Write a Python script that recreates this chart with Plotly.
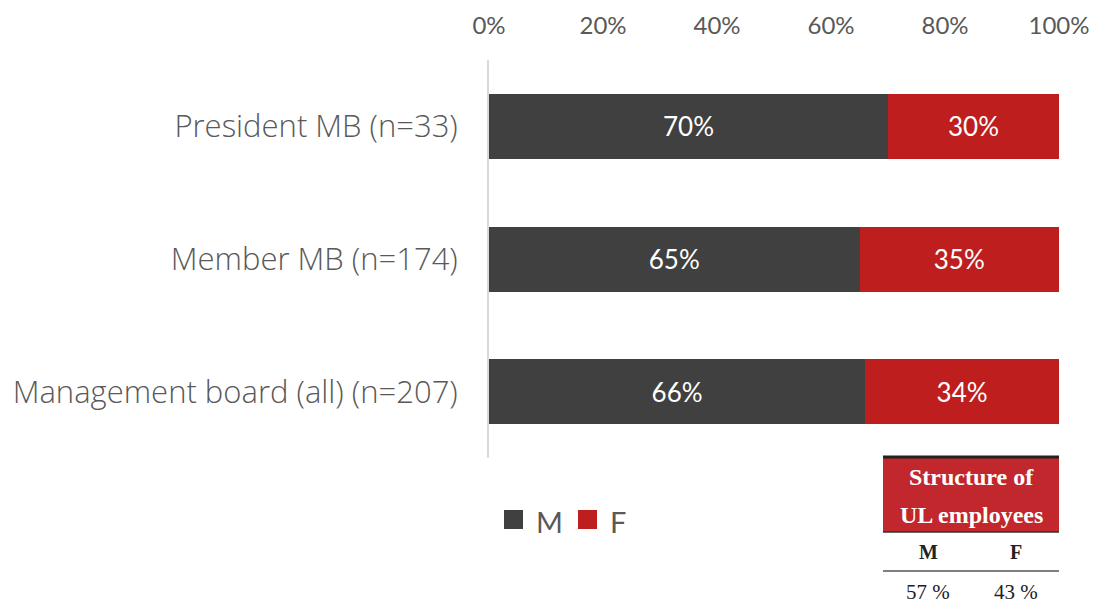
import plotly.graph_objects as go

# Shares of men and women on management boards
categories = ["President MB (n=33)", "Member MB (n=174)", "Management board (all) (n=207)"]
male_pct = [70, 65, 66]
female_pct = [30, 35, 34]
tick_vals = [0, 20, 40, 60, 80, 100]
tick_text = ["0%", "20%", "40%", "60%", "80%", "100%"]

# Reference structure of all UL employees
staff_headers = ["M", "F"]
staff_pct = [57, 43]

DARK = "#404040"
RED = "#be1e1e"
HEADER_RED = "#c1272d"
GREY_TEXT = "#595959"
SANS = "Lato, 'Open Sans', sans-serif"
WIDE_SANS = "'Open Sans', Lato, sans-serif"
SERIF = "'Liberation Serif', 'DejaVu Serif', serif"

fig = go.Figure()
fig.add_trace(go.Bar(
    y=categories, x=male_pct, orientation="h", name="M",
    marker=dict(color=DARK, line=dict(width=0)),
    text=[f"{v}%" for v in male_pct], textposition="inside",
    insidetextanchor="middle", textfont=dict(color="white", size=26, family=SANS),
    showlegend=False,
))
fig.add_trace(go.Bar(
    y=categories, x=female_pct, orientation="h", name="F",
    marker=dict(color=RED, line=dict(width=0)),
    text=[f"{v}%" for v in female_pct], textposition="inside",
    insidetextanchor="middle", textfont=dict(color="white", size=26, family=SANS),
    showlegend=False,
))

L, R, T, B = 489, 44, 60, 147
W, H = 1103, 605
pw, ph = W - L - R, H - T - B


def px(x):
    return (x - L) / pw


def py(y):
    return (H - B - y) / ph


shapes = []
annotations = []

# Legend drawn as swatches with labels
legend_items = [("M", DARK, 504, 534), ("F", RED, 578, 608)]
for label, color, sx, tx in legend_items:
    shapes.append(dict(type="rect", xref="paper", yref="paper",
                       x0=px(sx), x1=px(sx + 19), y0=py(510), y1=py(529),
                       fillcolor=color, line=dict(width=0)))
    annotations.append(dict(text=label, xref="paper", yref="paper",
                            x=px(tx), y=py(521), xanchor="left", yanchor="middle",
                            showarrow=False, font=dict(size=29, color=GREY_TEXT, family=SANS)))

# Small table: structure of UL employees
tx0, tx1, tmid = 883, 1059, 973
shapes.append(dict(type="rect", xref="paper", yref="paper",
                   x0=px(tx0), x1=px(tx1), y0=py(458), y1=py(532),
                   fillcolor=HEADER_RED, line=dict(width=0), layer="above"))
shapes.append(dict(type="line", xref="paper", yref="paper",
                   x0=px(tx0), x1=px(tx1), y0=py(457), y1=py(457),
                   line=dict(color="#222222", width=3)))
shapes.append(dict(type="line", xref="paper", yref="paper",
                   x0=px(tx0), x1=px(tx1), y0=py(532), y1=py(532),
                   line=dict(color="#333333", width=1.5)))
shapes.append(dict(type="line", xref="paper", yref="paper",
                   x0=px(tx0), x1=px(tx1), y0=py(571), y1=py(571),
                   line=dict(color="#555555", width=1.5)))
annotations.append(dict(text="<b>Structure of</b>", xref="paper", yref="paper",
                        x=px(tmid - 2), y=py(477), xanchor="center", yanchor="middle",
                        showarrow=False, font=dict(size=24, color="white", family=SERIF)))
annotations.append(dict(text="<b>UL employees</b>", xref="paper", yref="paper",
                        x=px(tmid - 2), y=py(515), xanchor="center", yanchor="middle",
                        showarrow=False, font=dict(size=24, color="white", family=SERIF)))
col_centers = [928, 1016]
for h, v, cx in zip(staff_headers, staff_pct, col_centers):
    annotations.append(dict(text=f"<b>{h}</b>", xref="paper", yref="paper",
                            x=px(cx), y=py(552), xanchor="center", yanchor="middle",
                            showarrow=False, font=dict(size=20, color="#222222", family=SERIF)))
    annotations.append(dict(text=f"{v} %", xref="paper", yref="paper",
                            x=px(cx), y=py(592), xanchor="center", yanchor="middle",
                            showarrow=False, font=dict(size=21, color="#222222", family=SERIF)))

fig.update_layout(
    barmode="stack",
    bargap=0.51,
    width=W, height=H,
    margin=dict(l=L, r=R, t=T, b=B, autoexpand=False),
    paper_bgcolor="white", plot_bgcolor="white",
    shapes=shapes, annotations=annotations,
    showlegend=False,
    xaxis=dict(
        side="top", range=[0, 100], tickmode="array",
        tickvals=tick_vals, ticktext=tick_text,
        showgrid=False, zeroline=False, showline=False,
        ticks="outside", ticklen=15, tickcolor="rgba(0,0,0,0)",
        tickfont=dict(size=24, color=GREY_TEXT, family=SANS),
        fixedrange=True,
    ),
    yaxis=dict(
        autorange="reversed", showgrid=False, zeroline=False,
        showline=True, linecolor="#d9d9d9", linewidth=2,
        ticks="outside", ticklen=23, tickcolor="rgba(0,0,0,0)",
        tickfont=dict(size=31, color=GREY_TEXT, family=WIDE_SANS, weight=300),
        fixedrange=True,
    ),
)

fig.write_html("out.html")
